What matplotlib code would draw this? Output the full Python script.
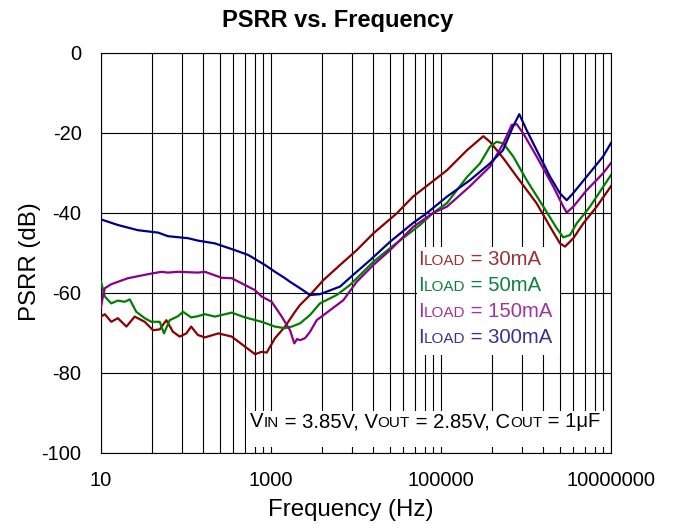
import matplotlib
matplotlib.use('Agg')
import matplotlib.pyplot as plt
from matplotlib.patches import Rectangle
from matplotlib.ticker import FixedLocator, NullFormatter

plt.rcParams['font.family'] = ['Liberation Sans', 'DejaVu Sans']
plt.rcParams['axes.unicode_minus'] = False

# ---- data (frequency in Hz, PSRR in dB) ----
f_30 = [10, 11.1, 13.2, 15.8, 19.9, 24.9, 32.7, 40.9, 49.1, 58.7, 70.3, 84.3, 101, 115, 138, 167,
        240, 345, 494, 649, 778, 890, 1114, 1462, 1915, 2193, 2877, 4121, 6486, 10190, 15990,
        30130, 46880, 117700, 202300, 314700, 376700, 540700, 778000, 1.336e6, 1.915e6, 2.512e6,
        2.877e6, 3.606e6, 4.721e6, 6.792e6, 1e7]
db_30 = [-65.9, -65.3, -67.2, -66.3, -68.4, -65.9, -67.2, -69.3, -69.1, -66.8, -69.7, -70.9, -70.1,
         -68.4, -70.5, -71.1, -70.1, -70.9, -73.4, -75.3, -74.7, -74.9, -71.3, -68.4, -64.7, -63.0,
         -60.5, -56.8, -53.0, -49.3, -45.1, -40.1, -35.9, -29.3, -24.3, -20.8, -22.2, -26.3, -30.9,
         -37.6, -43.4, -47.6, -48.4, -46.3, -42.6, -38.4, -33.3]

f_50 = [10, 11.1, 13.2, 15.8, 19.0, 21.8, 26.0, 32.7, 39.1, 49.1, 55.1, 64.3, 80.5, 92.2, 115, 138,
        167, 219, 345, 494, 778, 1114, 1462, 1753, 2193, 2877, 3767, 5929, 8492, 15990, 25120,
        56620, 80500, 117700, 202300, 287700, 376700, 451900, 540700, 709600, 1.019e6, 1.6e6,
        2.296e6, 2.748e6, 3.296e6, 3.945e6, 5.662e6, 8.118e6, 1e7]
db_50 = [-57.2, -60.9, -62.6, -61.9, -62.2, -61.6, -64.7, -66.3, -67.2, -67.2, -70.1, -66.8, -65.8,
         -64.7, -66.1, -65.8, -65.3, -65.9, -64.9, -66.1, -67.2, -68.4, -68.8, -68.4, -67.6, -65.5,
         -62.6, -60.5, -58.0, -52.2, -48.8, -43.0, -40.0, -37.5, -31.0, -27.6, -23.4, -22.2, -22.6,
         -25.9, -31.8, -38.4, -43.8, -46.1, -45.5, -42.6, -38.4, -33.4, -30.5]

f_150 = [10, 10.5, 11.1, 13.2, 20.8, 35.7, 51.2, 61.4, 80.5, 138, 167, 263, 345, 494, 649, 778,
         1019, 1337, 1674, 1880, 2030, 2193, 2512, 2877, 3449, 4943, 7096, 10190, 15990, 25120,
         46880, 80500, 117700, 219300, 376700, 540700, 679200, 778000, 929000, 1.336e6, 2.094e6,
         2.748e6, 3.013e6, 3.606e6, 5.176e6, 8.054e6, 1e7]
db_150 = [-63.5, -61.0, -58.8, -57.8, -56.3, -55.3, -54.7, -54.9, -54.7, -54.9, -54.7, -56.2, -56.3,
          -58.0, -59.3, -60.9, -62.2, -65.9, -69.3, -72.6, -71.5, -71.8, -71.3, -69.7, -66.8, -64.3,
          -61.8, -57.2, -53.0, -49.3, -43.5, -40.0, -38.4, -33.3, -28.4, -22.6, -18.0, -17.8, -20.1,
          -25.9, -33.4, -38.4, -39.9, -38.4, -34.3, -30.1, -27.5]

f_300 = [10, 15.8, 27.2, 46.9, 61.4, 105.6, 138, 219, 377, 541, 850, 1114, 1462, 1674, 2193, 2877,
         3767, 6486, 9222, 14620, 25120, 46880, 68400, 117700, 219300, 376700, 535800, 703100,
         834000, 1.019e6, 1.336e6, 1.915e6, 2.512e6, 3.013e6, 3.573e6, 5.176e6, 8.054e6, 1e7]
db_300 = [-41.6, -43.0, -44.3, -44.9, -45.8, -46.3, -46.9, -47.6, -49.3, -50.5, -53.0, -54.7, -56.3,
          -57.2, -58.8, -60.5, -60.3, -58.4, -55.5, -51.8, -47.2, -42.5, -40.0, -35.9, -31.8, -27.6,
          -24.3, -18.4, -15.3, -19.3, -24.3, -30.9, -35.1, -36.8, -35.1, -30.9, -25.9, -22.5]

load_labels = ['30mA', '50mA', '150mA', '300mA']
line_colors = ['#8b0000', '#008000', '#8b008b', '#00008b']
text_colors = ['#993333', '#108040', '#a033a0', '#333399']

x_ticks = [10, 1e3, 1e5, 1e7]
x_tick_labels = ['10', '1000', '100000', '10000000']
y_ticks = [-100, -80, -60, -40, -20, 0]
y_tick_labels = ['-100', '-80', '-60', '-40', '-20', '0']

fig = plt.figure(figsize=(6.75, 5.29), dpi=100)
ax = fig.add_axes([101 / 675, 1 - 453 / 529, 510 / 675, 400 / 529])

series = [(f_30, db_30), (f_50, db_50), (f_150, db_150), (f_300, db_300)]
for (f, db), c in zip(series, line_colors):
    ax.plot(f, db, color=c, linewidth=1.6, zorder=3)

ax.set_xscale('log')
ax.set_xlim(10, 1e7)
ax.set_ylim(-100, 0)
ax.set_xticks(x_ticks)
ax.set_xticklabels(x_tick_labels)
# the original chart draws 8 sub-lines inside each 100x interval, spaced like a decade
minor = [base * k * k for base in (10, 1e3, 1e5) for k in range(2, 10)]
ax.xaxis.set_minor_locator(FixedLocator(minor))
ax.xaxis.set_minor_formatter(NullFormatter())
ax.set_yticks(y_ticks)
ax.set_yticklabels(y_tick_labels)
ax.tick_params(which='both', length=0, labelsize=14.5)
ax.tick_params(axis='x', pad=13)
ax.tick_params(axis='y', pad=14)

ax.grid(True, which='both', axis='x', color='black', linewidth=0.8)
ax.grid(True, which='major', axis='y', color='black', linewidth=0.8)
for s in ax.spines.values():
    s.set_color('black')
    s.set_linewidth(0.8)

# white backgrounds behind the label blocks
ax.add_patch(Rectangle((0.62, 0.245), 0.28, 0.27, transform=ax.transAxes,
                       facecolor='white', edgecolor='none', zorder=2))
ax.add_patch(Rectangle((0.284, 0.015), 0.714, 0.09, transform=ax.transAxes,
                       facecolor='white', edgecolor='none', zorder=2))

renderer = fig.canvas.get_renderer()


def rich_text(x, y, parts, color):
    # place pieces of text one after another on a common baseline
    for s, size in parts:
        t = ax.text(x, y, s, transform=ax.transAxes, fontsize=size, color=color,
                    ha='left', va='baseline', zorder=4)
        bb = t.get_window_extent(renderer=renderer)
        x = ax.transAxes.inverted().transform((bb.x1, bb.y0))[0]


big, small = 14.6, 11
for i, (lab, c) in enumerate(zip(load_labels, text_colors)):
    rich_text(0.622, 0.47 - i * 0.065, [('I', big), ('LOAD', small), (' = ' + lab, big)], c)

rich_text(0.292, 0.064, [('V', big), ('IN', small), (' = 3.85V, V', big), ('OUT', small),
                         (' = 2.85V, C', big), ('OUT', small), (' = 1μF', big)], 'black')

fig.text(0.5, 1 - 20 / 529, 'PSRR vs. Frequency', ha='center', va='center',
         fontsize=17, fontweight='bold')
fig.text(351 / 675, 1 - 510 / 529, 'Frequency (Hz)', ha='center', va='center', fontsize=17.3)
fig.text(30 / 675, 1 - 262 / 529, 'PSRR (dB)', ha='center', va='center', fontsize=17.3,
         rotation=90)

fig.savefig('out.png', dpi=100)
